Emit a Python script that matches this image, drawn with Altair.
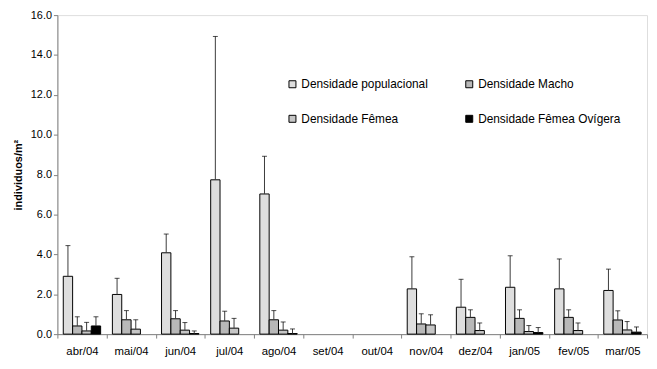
import altair as alt
import pandas as pd

months = ["abr/04", "mai/04", "jun/04", "jul/04", "ago/04", "set/04",
          "out/04", "nov/04", "dez/04", "jan/05", "fev/05", "mar/05"]
series = ["Densidade populacional", "Densidade Macho",
          "Densidade Fêmea", "Densidade Fêmea Ovígera"]
colors = ["#dedede", "#b8b8b8", "#c6c6c6", "#000000"]

pop = [2.90, 1.99, 4.08, 7.74, 7.03, 0, 0, 2.27, 1.35, 2.35, 2.27, 2.19]
pop_err = [4.44, 2.80, 5.02, 14.93, 8.92, 0, 0, 3.88, 2.75, 3.93, 3.77, 3.26]
macho = [0.41, 0.72, 0.77, 0.66, 0.72, 0, 0, 0.51, 0.84, 0.79, 0.84, 0.71]
macho_err = [0.87, 1.18, 1.18, 1.15, 1.18, 0, 0, 1.02, 1.22, 1.22, 1.22, 1.17]
femea = [0.16, 0.25, 0.20, 0.30, 0.20, 0, 0, 0.46, 0.18, 0.13, 0.18, 0.21]
femea_err = [0.59, 0.72, 0.58, 0.79, 0.61, 0, 0, 0.97, 0.56, 0.43, 0.56, 0.63]
ovig = [0.41, 0, 0.03, 0, 0.03, 0, 0, 0, 0, 0.08, 0, 0.10]
ovig_err = [0.87, 0, 0.16, 0, 0.26, 0, 0, 0, 0, 0.33, 0, 0.36]

rows = []
for s, vals, errs in zip(series, [pop, macho, femea, ovig],
                         [pop_err, macho_err, femea_err, ovig_err]):
    for m, v, e in zip(months, vals, errs):
        rows.append({"mes": m, "serie": s, "valor": v, "erro": e})
df = pd.DataFrame(rows)
bar_df = df[df["valor"] > 0]
err_df = df[df["erro"] > 0]

FONT = "Liberation Sans"

x_enc = alt.X("mes:N", sort=months, title=None,
              scale=alt.Scale(domain=months, paddingInner=0, paddingOuter=0),
              axis=alt.Axis(labelAngle=0, tickBand="extent", labelFont=FONT,
                            labelFontSize=11.5, labelColor="#000", labelPadding=8,
                            domainColor="#808080", tickColor="#808080",
                            tickSize=4))
xoff = alt.XOffset("serie:N", sort=series,
                   scale=alt.Scale(domain=series, paddingOuter=0.63, paddingInner=0))
y_scale = alt.Scale(domain=[0, 16], nice=False)

bars = alt.Chart(bar_df).mark_bar(stroke="#000", strokeWidth=1).encode(
    x=x_enc,
    xOffset=xoff,
    y=alt.Y("valor:Q", scale=y_scale, title="individuos/m²",
            axis=alt.Axis(values=[0, 2, 4, 6, 8, 10, 12, 14, 16], format=".1f",
                          grid=False, labelFont=FONT, labelFontSize=11,
                          labelColor="#000", titleFont=FONT, titleFontSize=11,
                          titleFontWeight="bold", titleColor="#000",
                          domainColor="#808080", tickColor="#808080",
                          tickSize=4, titlePadding=7)),
    color=alt.Color("serie:N", sort=series,
                    scale=alt.Scale(domain=series, range=colors),
                    legend=alt.Legend(title=None, orient="none", legendX=232,
                                      legendY=64, columns=2, direction="horizontal",
                                      symbolType="square", symbolSize=50,
                                      symbolStrokeColor="#000", symbolStrokeWidth=1,
                                      labelFont=FONT, labelFontSize=12,
                                      labelColor="#000", columnPadding=35,
                                      rowPadding=23, labelOffset=3)),
)

rules = alt.Chart(err_df).mark_rule(color="#3a3a3a", strokeWidth=1).encode(
    x=alt.X("mes:N", sort=months),
    xOffset=alt.XOffset("serie:N", sort=series),
    y=alt.Y("valor:Q", scale=y_scale),
    y2="erro:Q",
)

caps = alt.Chart(err_df).mark_tick(color="#000", thickness=1, size=5,
                                   orient="horizontal").encode(
    x=alt.X("mes:N", sort=months),
    xOffset=alt.XOffset("serie:N", sort=series),
    y=alt.Y("erro:Q", scale=y_scale),
)

chart = alt.layer(bars, rules, caps).properties(
    width=597, height=323,
    autosize=alt.AutoSizeParams(type="none"),
    padding={"left": 50, "top": 5, "right": 2, "bottom": 25},
).configure_view(stroke=None).configure(background="#ffffff")

chart.save("out.html", embed_options={"renderer": "svg", "actions": False})
